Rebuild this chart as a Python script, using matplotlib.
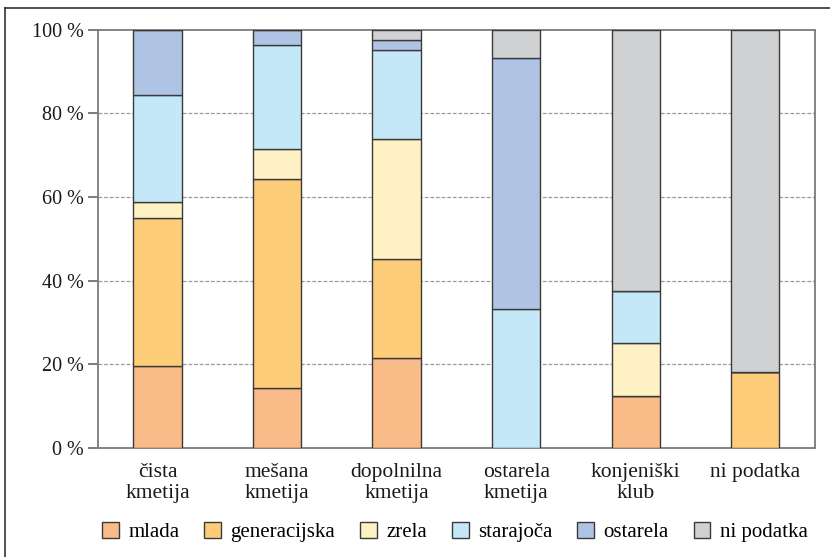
import numpy as np
from matplotlib import pyplot as plt
from matplotlib.lines import Line2D

plt.rcParams['font.family'] = ['Liberation Serif', 'DejaVu Serif']
plt.rcParams['font.size'] = 15

# farm types and age structure shares (%)
categories = ["čista\nkmetija", "mešana\nkmetija", "dopolnilna\nkmetija",
              "ostarela\nkmetija", "konjeniški\nklub", "ni podatka"]
series = ["mlada", "generacijska", "zrela", "starajoča", "ostarela", "ni podatka"]

mlada        = [19.6, 14.3, 21.4,  0.0, 12.5,  0.0]
generacijska = [35.3, 50.0, 23.8,  0.0,  0.0, 18.2]
zrela        = [ 3.9,  7.1, 28.6,  0.0, 12.5,  0.0]
starajoca    = [25.5, 25.0, 21.4, 33.3, 12.5,  0.0]
ostarela     = [15.7,  3.6,  2.4, 60.0,  0.0,  0.0]
ni_podatka   = [ 0.0,  0.0,  2.4,  6.7, 62.5, 81.8]

colors = ["#F9BB87", "#FECD7A", "#FEF1C4", "#C5E8F8", "#AFC4E4", "#D0D1D3"]

fig = plt.figure(figsize=(8.3, 5.57), dpi=100)
ax = fig.add_axes([0.1177, 0.1957, 0.982 - 0.1177, 0.9467 - 0.1957])

x = np.arange(len(categories))
bottom = np.zeros(len(categories))
for name, vals, col in zip(series, [mlada, generacijska, zrela, starajoca, ostarela, ni_podatka], colors):
    vals = np.array(vals)
    ax.bar(x, vals, 0.405, bottom=bottom, color=col, edgecolor="#3a3a3a",
           linewidth=1.0, label=name, zorder=3)
    bottom += vals

ax.set_xlim(-0.5, 5.5)
ax.set_ylim(0, 100)
ax.set_yticks([0, 20, 40, 60, 80, 100])
ax.set_yticklabels([f"{v} %" for v in [0, 20, 40, 60, 80, 100]], color="#1a1a1a", fontsize=14.5)
ax.set_xticks(x)
ax.set_xticklabels(categories, color="#1a1a1a", linespacing=1.15, fontsize=15.5)
ax.tick_params(axis="x", length=0, pad=11)
ax.tick_params(axis="y", length=7, width=1.2, color="#666666", pad=3)

for y in [20, 40, 60, 80]:
    ax.axhline(y, color="#9a9a9a", linestyle=(0, (3, 1.5)), linewidth=0.9, zorder=1)
for s in ax.spines.values():
    s.set_color("#7a7a7a")
    s.set_linewidth(1.3)

fig.legend(loc="center", bbox_to_anchor=(0.548, 0.045), ncol=6, frameon=False,
           handlelength=0.8, handleheight=0.8, handletextpad=0.45,
           columnspacing=1.2, fontsize=15)

# thin frame along the left and top edges
fig.add_artist(Line2D([5 / 830, 5 / 830], [0, 1 - 8 / 557], transform=fig.transFigure,
                      color="#333333", linewidth=1.2))
fig.add_artist(Line2D([5 / 830, 1], [1 - 8 / 557, 1 - 8 / 557], transform=fig.transFigure,
                      color="#333333", linewidth=1.2))

fig.savefig("out.png", dpi=100)
